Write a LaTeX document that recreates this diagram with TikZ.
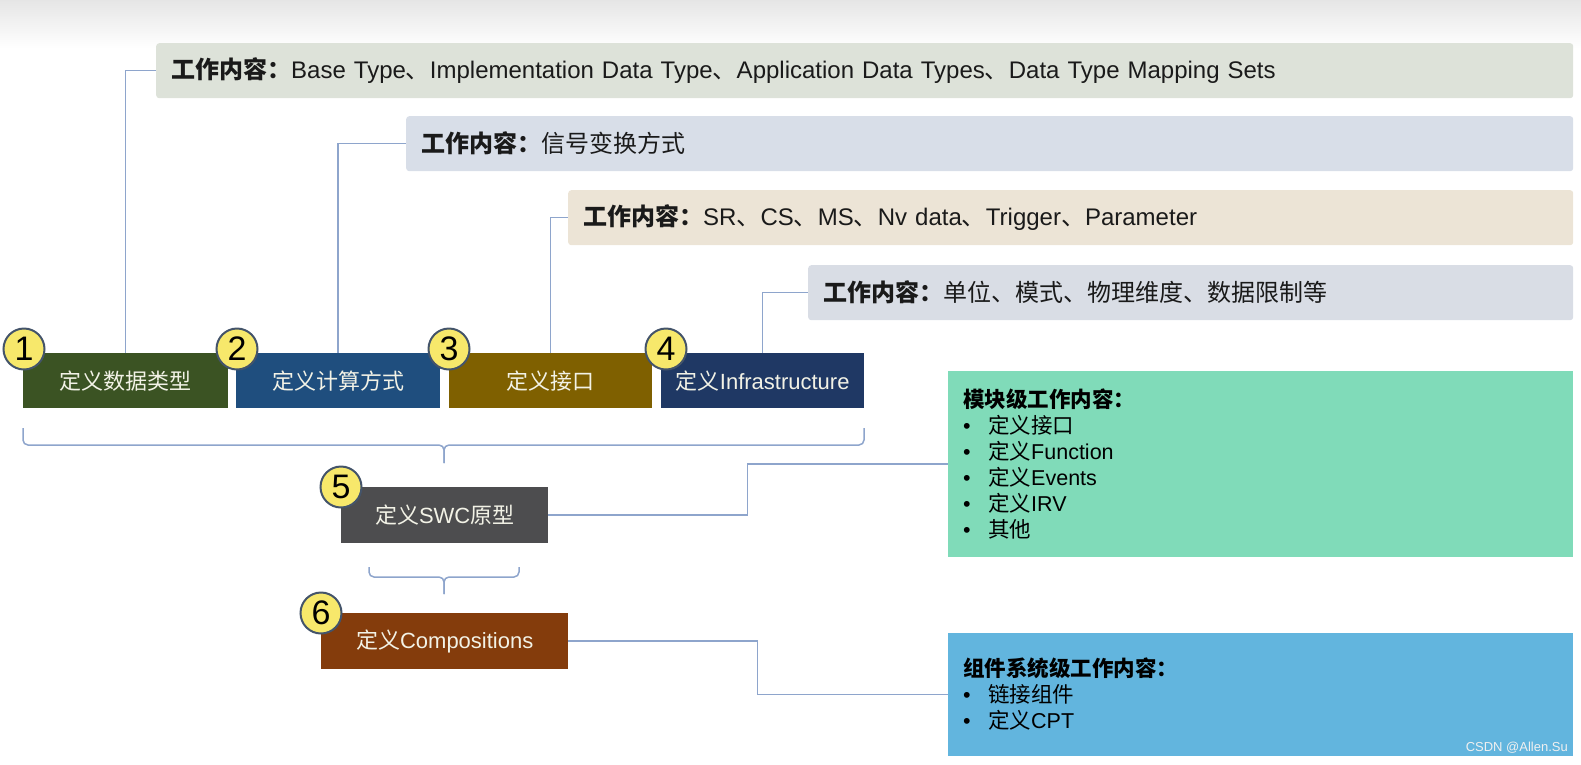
\documentclass[tikz,border=0pt]{standalone}
\usepackage{fontspec}
\setmainfont{Liberation Sans}
\newfontfamily\zh{Noto Sans CJK SC}
\usetikzlibrary{calc}
\definecolor{barA}{HTML}{DDE2D9}
\definecolor{barB}{HTML}{D8DEE8}
\definecolor{barC}{HTML}{ECE4D6}
\definecolor{barD}{HTML}{D9DDE5}
\definecolor{boxA}{HTML}{3B5323}
\definecolor{boxB}{HTML}{1F4E7E}
\definecolor{boxC}{HTML}{7F6000}
\definecolor{boxD}{HTML}{1F3864}
\definecolor{boxE}{HTML}{4D4D4F}
\definecolor{boxF}{HTML}{843C0C}
\definecolor{greenbox}{HTML}{80DBB9}
\definecolor{bluebox}{HTML}{62B5DE}
\definecolor{conncol}{HTML}{8EA5CC}
\definecolor{numfill}{HTML}{F7E86B}
\definecolor{numline}{HTML}{44546A}
\definecolor{boxtxt}{HTML}{F2F2E6}
\definecolor{darktxt}{HTML}{1A1A1A}
\begin{document}
\begin{tikzpicture}[x=1pt,y=-1pt,
  bar/.style={rounded corners=3pt, minimum height=55pt, inner xsep=15pt, inner ysep=0pt,
    align=left, anchor=north west, text=darktxt, font=\fontsize{24}{28}\selectfont},
  stepbox/.style={minimum height=55pt, inner sep=0pt, anchor=north west, text=boxtxt,
    font=\fontsize{22}{26}\selectfont},
  num/.style={circle, fill=numfill, draw=numline, line width=2pt, minimum size=41pt,
    inner sep=0pt, font=\fontsize{34}{34}\selectfont, text=black},
  conn/.style={draw=conncol, line width=1.5pt},
  info/.style={anchor=west, inner sep=0pt, text=black, font=\fontsize{21.5}{24}\selectfont},
  panel/.style={anchor=north west, inner sep=0pt}
]
\useasboundingbox (0,0) rectangle (1581,764);
\shade[top color=black!10, bottom color=white] (0,0) rectangle (1581,48);

% top work-content bars
\node[bar, fill=barA, text width=1387pt] (t1) at (156,43)
  {{\zh\bfseries 工作内容：}Base Type{\zh 、}Implementation Data Type{\zh 、}Application Data Types{\zh 、}Data Type Mapping Sets};
\node[bar, fill=barB, text width=1137pt] (t2) at (406,116)
  {{\zh\bfseries 工作内容：}{\zh 信号变换方式}};
\node[bar, fill=barC, text width=975pt] (t3) at (568,190)
  {{\zh\bfseries 工作内容：}SR{\zh 、}CS{\zh 、}MS{\zh 、}Nv data{\zh 、}Trigger{\zh 、}Parameter};
\node[bar, fill=barD, text width=735pt] (t4) at (808,265)
  {{\zh\bfseries 工作内容：}{\zh 单位、模式、物理维度、数据限制等}};

% step boxes
\node[stepbox, fill=boxA, minimum width=205pt] (b1) at (23,353) {\zh 定义数据类型};
\node[stepbox, fill=boxB, minimum width=204pt] (b2) at (236,353) {\zh 定义计算方式};
\node[stepbox, fill=boxC, minimum width=203pt] (b3) at (449,353) {\zh 定义接口};
\node[stepbox, fill=boxD, minimum width=203pt] (b4) at (661,353) {{\zh 定义}Infrastructure};
\node[stepbox, fill=boxE, minimum width=207pt, minimum height=56pt] (b5) at (341,487) {{\zh 定义}SWC{\zh 原型}};
\node[stepbox, fill=boxF, minimum width=247pt, minimum height=56pt] (b6) at (321,613) {{\zh 定义}Compositions};

% connectors to bars
\draw[conn] (b1.north) |- (t1.west);
\draw[conn] (b2.north) |- (t2.west);
\draw[conn] (b3.north) |- (t3.west);
\draw[conn] (b4.north) |- (t4.west);

% number circles
\node[num] (n1) at ($(b1.north west)+(1,-4)$) {1};
\node[num] (n2) at ($(b2.north west)+(1,-4)$) {2};
\node[num] (n3) at ($(b3.north west)+(0,-4)$) {3};
\node[num] (n4) at ($(b4.north west)+(5,-4)$) {4};
\node[num] (n5) at ($(b5.north west)+(0,0)$) {5};
\node[num] (n6) at ($(b6.north west)+(0,0)$) {6};

% braces
\draw[conn, rounded corners=5pt] (23,428) -- (23,445) -- (444,445) -- (444,463);
\draw[conn, rounded corners=5pt] (864,428) -- (864,445) -- (444,445) -- (444,463);
\draw[conn, rounded corners=5pt] (369,567) -- (369,577) -- (444,577) -- (444,594);
\draw[conn, rounded corners=5pt] (519,567) -- (519,577) -- (444,577) -- (444,594);

% right panels
\node[panel, fill=greenbox, minimum width=625pt, minimum height=186pt] (g) at (948,371) {};
\node[panel, fill=bluebox, minimum width=625pt, minimum height=123pt] (bl) at (948,633) {};

\draw[conn] (b5.east) -- ++(199,0) |- (g.west);
\draw[conn] (b6.east) -- ++(189,0) |- (bl.west);

% green panel text
\node[info] (g0) at (963,399) {\zh\bfseries 模块级工作内容：};
\node[info] (g1) at (963,425.5) {\makebox[25pt][l]{•}{\zh 定义接口}};
\node[info] (g2) at (963,451.5) {\makebox[25pt][l]{•}{\zh 定义}Function};
\node[info] (g3) at (963,477.5) {\makebox[25pt][l]{•}{\zh 定义}Events};
\node[info] (g4) at (963,503.5) {\makebox[25pt][l]{•}{\zh 定义}IRV};
\node[info] (g5) at (963,529.5) {\makebox[25pt][l]{•}{\zh 其他}};

% blue panel text
\node[info] (q0) at (963,668.5) {\zh\bfseries 组件系统级工作内容：};
\node[info] (q1) at (963,694.5) {\makebox[25pt][l]{•}{\zh 链接组件}};
\node[info] (q2) at (963,720.5) {\makebox[25pt][l]{•}{\zh 定义}CPT};

\node[anchor=east, inner sep=0pt, text=white!88!gray, font=\fontsize{13}{15}\selectfont] (wm) at (1568,748) {CSDN @Allen.Su};
\end{tikzpicture}
\end{document}
